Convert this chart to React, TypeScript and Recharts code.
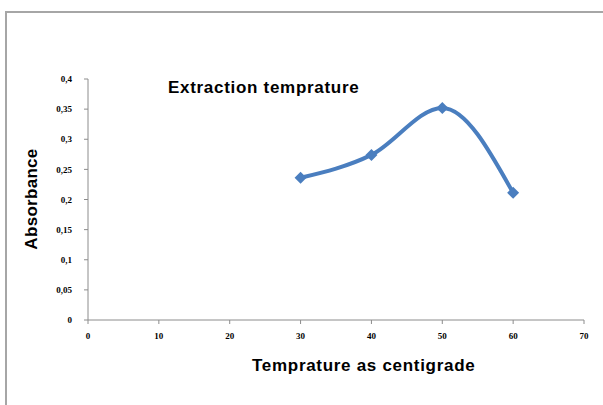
import { LineChart, Line, XAxis, YAxis } from 'recharts';

const temperatures = [30, 40, 50, 60];
const absorbance = [0.236, 0.274, 0.352, 0.211];
const xTicks = [0, 10, 20, 30, 40, 50, 60, 70];
const yTicks = [0, 0.05, 0.1, 0.15, 0.2, 0.25, 0.3, 0.35, 0.4];

const chartData = temperatures.map((t, i) => ({ temp: t, abs: absorbance[i] }));

const BLUE = '#4a7ebf';
const AXIS = '#8c8c8c';
const tickStyle = { fontSize: 9, fontWeight: 'bold', fontFamily: '"Liberation Serif", serif', fill: '#000' };
const labelFont = '"Liberation Sans", Arial, sans-serif';

function Diamond(props: any) {
  const { cx, cy } = props;
  if (cx == null || cy == null) return null;
  const r = 6;
  return (
    <path
      d={`M${cx},${cy - r} L${cx + r},${cy} L${cx},${cy + r} L${cx - r},${cy} Z`}
      fill={BLUE}
      stroke="none"
    />
  );
}

export default function App() {
  return (
    <div style={{ position: 'absolute', left: 0, top: 0, width: 603, height: 405, background: '#fff', overflow: 'hidden' }}>
      <div
        style={{
          position: 'absolute',
          left: 5,
          top: 11,
          width: 620,
          height: 420,
          border: '2px solid #a6a6a6',
          boxSizing: 'border-box',
        }}
      />
      <LineChart
        width={603}
        height={405}
        data={chartData}
        margin={{ top: 79, right: 19, bottom: 55, left: 28 }}
        style={{ position: 'absolute', left: 0, top: 0 }}
      >
        <XAxis
          dataKey="temp"
          type="number"
          domain={[0, 70]}
          ticks={xTicks}
          height={30}
          stroke={AXIS}
          tickSize={4}
          tickMargin={9}
          tick={tickStyle}
          interval={0}
        />
        <YAxis
          type="number"
          domain={[0, 0.4]}
          ticks={yTicks}
          width={60}
          stroke={AXIS}
          tickSize={4}
          tickMargin={12}
          tick={tickStyle}
          interval={0}
          tickFormatter={(v: number) => String(v).replace('.', ',')}
        />
        <Line
          dataKey="abs"
          type="monotone"
          stroke={BLUE}
          strokeWidth={4}
          dot={<Diamond />}
          activeDot={false}
          isAnimationActive={false}
        />
      </LineChart>
      <div
        style={{
          position: 'absolute',
          left: 168,
          top: 78,
          fontFamily: labelFont,
          fontWeight: 'bold',
          fontSize: 17,
          letterSpacing: 0.7,
          whiteSpace: 'nowrap',
        }}
      >
        Extraction temprature
      </div>
      <div
        style={{
          position: 'absolute',
          left: 252,
          top: 356,
          fontFamily: labelFont,
          fontWeight: 'bold',
          fontSize: 17,
          letterSpacing: 0.7,
          whiteSpace: 'nowrap',
        }}
      >
        Temprature as centigrade
      </div>
      <div
        style={{
          position: 'absolute',
          left: 32,
          top: 199,
          transform: 'translate(-50%, -50%) rotate(-90deg)',
          fontFamily: labelFont,
          fontWeight: 'bold',
          fontSize: 17,
          letterSpacing: 0.3,
          whiteSpace: 'nowrap',
        }}
      >
        Absorbance
      </div>
    </div>
  );
}
